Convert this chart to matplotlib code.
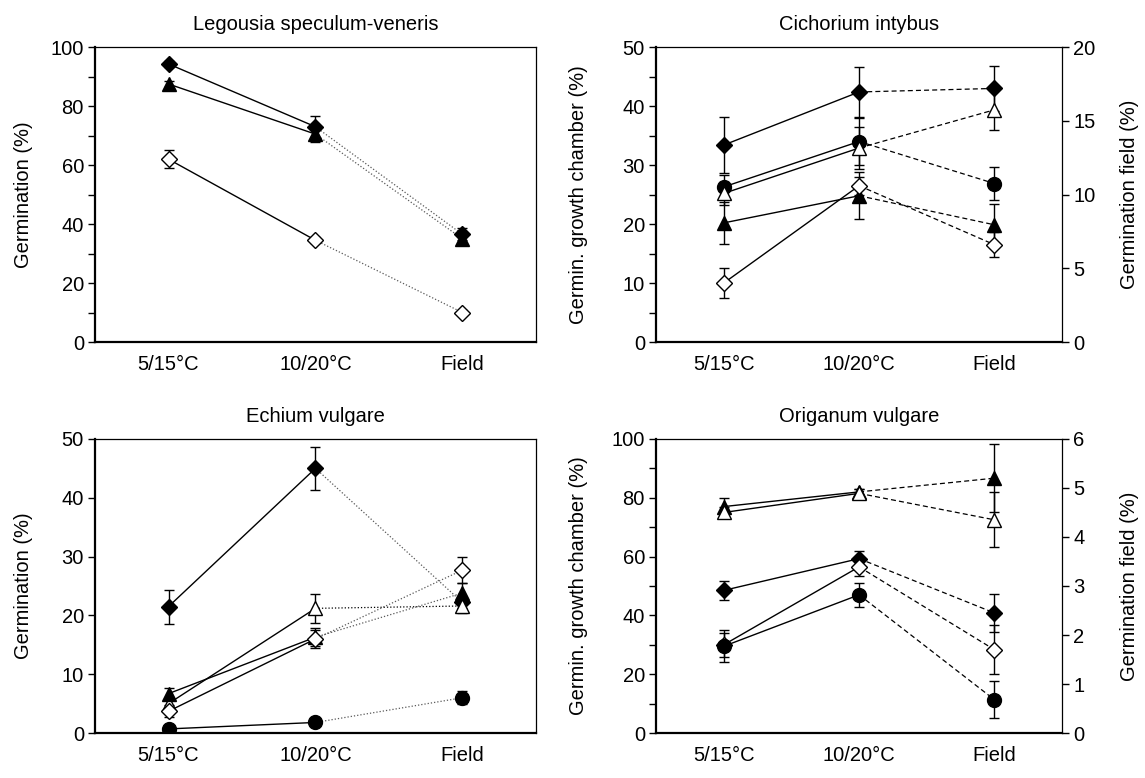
import matplotlib.pyplot as plt
from matplotlib.ticker import MultipleLocator

plt.rcParams["font.family"] = ["Liberation Sans", "DejaVu Sans"]
plt.rcParams["font.size"] = 14.5

CONDITIONS = ["5/15°C", "10/20°C", "Field"]

# Legousia speculum-veneris: germination (%) at 5/15, 10/20, field
leg_diamond_filled = [94.3, 73.0, 36.5]
leg_diamond_filled_err = [1.0, 3.5, 2.0]
leg_triangle_filled = [87.5, 70.5, 35.0]
leg_triangle_filled_err = [1.0, 2.5, 2.0]
leg_diamond_open = [62.0, 34.5, 10.0]
leg_diamond_open_err = [3.0, 1.0, 1.0]

# Cichorium intybus: growth chamber (%) at 5/15, 10/20; field (%) separately
cic_diamond_filled = [33.4, 42.4]
cic_diamond_filled_err = [4.7, 4.3]
cic_diamond_filled_field = 17.2
cic_diamond_filled_field_err = 1.5
cic_circle = [26.3, 34.0]
cic_circle_err = [2.0, 4.0]
cic_circle_field = 10.75
cic_circle_field_err = 1.1
cic_triangle_open = [25.2, 32.9]
cic_triangle_open_err = [2.0, 3.5]
cic_triangle_open_field = 15.75
cic_triangle_open_field_err = 1.35
cic_triangle_filled = [20.2, 24.8]
cic_triangle_filled_err = [3.6, 4.0]
cic_triangle_filled_field = 7.95
cic_triangle_filled_field_err = 1.4
cic_diamond_open = [10.0, 26.5]
cic_diamond_open_err = [2.5, 1.5]
cic_diamond_open_field = 6.6
cic_diamond_open_field_err = 0.85

# Echium vulgare: germination (%) at 5/15, 10/20, field
ech_diamond_filled = [21.5, 45.0, 22.2]
ech_diamond_filled_err = [2.9, 3.7, 1.0]
ech_triangle_open = [5.0, 21.2, 21.6]
ech_triangle_open_err = [1.0, 2.5, 1.2]
ech_triangle_filled = [6.7, 16.3, 23.8]
ech_triangle_filled_err = [1.0, 1.5, 1.7]
ech_diamond_open = [3.7, 16.0, 27.7]
ech_diamond_open_err = [1.0, 1.5, 2.2]
ech_circle = [0.7, 1.8, 6.0]
ech_circle_err = [0.3, 0.3, 1.1]

# Origanum vulgare: growth chamber (%) at 5/15, 10/20; field (%) separately
ori_triangle_filled = [77.0, 82.0]
ori_triangle_filled_err = [3.0, 1.0]
ori_triangle_filled_field = 5.2
ori_triangle_filled_field_err = 0.7
ori_triangle_open = [75.0, 81.5]
ori_triangle_open_err = [2.0, 1.5]
ori_triangle_open_field = 4.35
ori_triangle_open_field_err = 0.56
ori_diamond_filled = [48.5, 59.3]
ori_diamond_filled_err = [3.2, 2.5]
ori_diamond_filled_field = 2.45
ori_diamond_filled_field_err = 0.38
ori_diamond_open = [30.0, 56.5]
ori_diamond_open_err = [4.0, 3.0]
ori_diamond_open_field = 1.7
ori_diamond_open_field_err = 0.5
ori_circle = [29.5, 47.0]
ori_circle_err = [5.5, 4.0]
ori_circle_field = 0.68
ori_circle_field_err = 0.38

MARKERS = {
    "diamond_filled": ("D", "black", 8),
    "diamond_open": ("D", "white", 8),
    "triangle_filled": ("^", "black", 10),
    "triangle_open": ("^", "white", 10),
    "circle": ("o", "black", 10),
}

DOTTED = dict(color="0.35", lw=0.9, linestyle=(0, (1, 1.6)))
DASHED = dict(color="black", lw=0.9, linestyle=(0, (4, 2.5)))


def draw_series(ax, kind, values, errors, link_style):
    marker, face, ms = MARKERS[kind]
    x = [1, 2, 3]
    ax.plot(x[:2], values[:2], color="black", lw=1.0, zorder=2)
    ax.plot(x[1:], values[1:], zorder=2, **link_style)
    ax.errorbar(x, values, yerr=errors, fmt="none", ecolor="black",
                elinewidth=1.0, capsize=3.5, capthick=1.0, zorder=3)
    ax.plot(x, values, linestyle="none", marker=marker, ms=ms,
            markerfacecolor=face, markeredgecolor="black",
            markeredgewidth=1.0, zorder=4)


def style_axis(ax, title, ymax, major, minor, ylabel, label_x):
    ax.set_xlim(0.5, 3.5)
    ax.set_ylim(0, ymax)
    ax.set_xticks([1, 2, 3])
    ax.set_xticklabels(CONDITIONS)
    ax.yaxis.set_major_locator(MultipleLocator(major))
    ax.yaxis.set_minor_locator(MultipleLocator(minor))
    ax.tick_params(axis="x", length=0, pad=9)
    ax.tick_params(axis="y", which="both", direction="out", length=5,
                   width=1.0, pad=3)
    ax.set_title(title, fontsize=14.5, pad=12)
    ax.set_ylabel(ylabel)
    ax.yaxis.set_label_coords(label_x, 0.5)
    ax.spines["left"].set_linewidth(1.6)
    ax.spines["bottom"].set_linewidth(1.6)
    ax.spines["top"].set_linewidth(0.9)
    ax.spines["right"].set_linewidth(0.9)


def add_field_axis(ax, ymax, step):
    ax2 = ax.twinx()
    ax2.set_ylim(0, ymax)
    ax2.yaxis.set_major_locator(MultipleLocator(step))
    ax2.tick_params(axis="y", direction="out", length=5, width=1.0, pad=3)
    ax2.set_ylabel("Germination field (%)")
    ax2.yaxis.set_label_coords(1.143, 0.5)
    for side in ["left", "bottom", "top", "right"]:
        ax2.spines[side].set_visible(False)
    return ax2


def main():
    fig = plt.figure(figsize=(11.45, 7.78), dpi=100)
    ax_leg = fig.add_axes([0.083, 0.5604, 0.385, 0.379])
    ax_cic = fig.add_axes([0.573, 0.5604, 0.3546, 0.379])
    ax_ech = fig.add_axes([0.083, 0.0578, 0.385, 0.378])
    ax_ori = fig.add_axes([0.573, 0.0578, 0.3546, 0.378])

    # Legousia
    draw_series(ax_leg, "diamond_filled", leg_diamond_filled, leg_diamond_filled_err, DOTTED)
    draw_series(ax_leg, "triangle_filled", leg_triangle_filled, leg_triangle_filled_err, DOTTED)
    draw_series(ax_leg, "diamond_open", leg_diamond_open, leg_diamond_open_err, DOTTED)
    style_axis(ax_leg, "Legousia speculum-veneris", 100, 20, 10,
               "Germination (%)", -0.14)

    # Cichorium, field values put on the chamber scale
    cic_scale = 50 / 20
    cic_series = [
        ("diamond_filled", cic_diamond_filled, cic_diamond_filled_err,
         cic_diamond_filled_field, cic_diamond_filled_field_err),
        ("circle", cic_circle, cic_circle_err, cic_circle_field, cic_circle_field_err),
        ("triangle_open", cic_triangle_open, cic_triangle_open_err,
         cic_triangle_open_field, cic_triangle_open_field_err),
        ("triangle_filled", cic_triangle_filled, cic_triangle_filled_err,
         cic_triangle_filled_field, cic_triangle_filled_field_err),
        ("diamond_open", cic_diamond_open, cic_diamond_open_err,
         cic_diamond_open_field, cic_diamond_open_field_err),
    ]
    for kind, vals, errs, fval, ferr in cic_series:
        draw_series(ax_cic, kind, vals + [fval * cic_scale],
                    errs + [ferr * cic_scale], DASHED)
    style_axis(ax_cic, "Cichorium intybus", 50, 10, 5,
               "Germin. growth chamber (%)", -0.167)
    add_field_axis(ax_cic, 20, 5)

    # Echium
    draw_series(ax_ech, "diamond_filled", ech_diamond_filled, ech_diamond_filled_err, DOTTED)
    draw_series(ax_ech, "triangle_open", ech_triangle_open, ech_triangle_open_err,
                dict(DOTTED, color="black"))
    draw_series(ax_ech, "triangle_filled", ech_triangle_filled, ech_triangle_filled_err, DOTTED)
    draw_series(ax_ech, "diamond_open", ech_diamond_open, ech_diamond_open_err, DOTTED)
    draw_series(ax_ech, "circle", ech_circle, ech_circle_err, DOTTED)
    style_axis(ax_ech, "Echium vulgare", 50, 10, 10, "Germination (%)", -0.14)

    # Origanum
    ori_scale = 100 / 6
    ori_series = [
        ("triangle_filled", ori_triangle_filled, ori_triangle_filled_err,
         ori_triangle_filled_field, ori_triangle_filled_field_err),
        ("triangle_open", ori_triangle_open, ori_triangle_open_err,
         ori_triangle_open_field, ori_triangle_open_field_err),
        ("diamond_filled", ori_diamond_filled, ori_diamond_filled_err,
         ori_diamond_filled_field, ori_diamond_filled_field_err),
        ("diamond_open", ori_diamond_open, ori_diamond_open_err,
         ori_diamond_open_field, ori_diamond_open_field_err),
        ("circle", ori_circle, ori_circle_err, ori_circle_field, ori_circle_field_err),
    ]
    for kind, vals, errs, fval, ferr in ori_series:
        draw_series(ax_ori, kind, vals + [fval * ori_scale],
                    errs + [ferr * ori_scale], DASHED)
    style_axis(ax_ori, "Origanum vulgare", 100, 20, 10,
               "Germin. growth chamber (%)", -0.167)
    add_field_axis(ax_ori, 6, 1)

    fig.savefig("out.png", dpi=100)
    plt.close(fig)


if __name__ == "__main__":
    main()
